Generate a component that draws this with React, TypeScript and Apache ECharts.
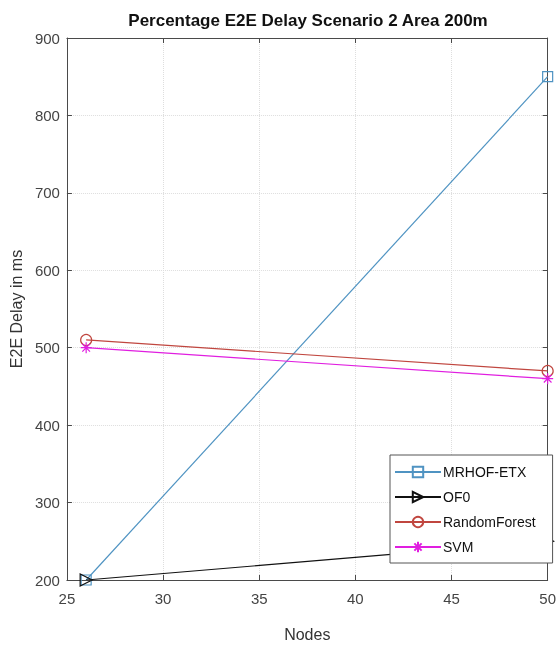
import React, { useEffect, useRef } from "react";
import * as echarts from "echarts";

const nodes = [26, 50];
const mrhofEtx = [200, 850];
const of0 = [200, 250];
const randomForest = [510, 470];
const svm = [500, 460];
const seriesNames = ["MRHOF-ETX", "OF0", "RandomForest", "SVM"];

const FONT = "'Liberation Sans', Arial, sans-serif";
const STAR = "path://M0,-6L0,6M-6,0L6,0M-4.2,-4.2L4.2,4.2M-4.2,4.2L4.2,-4.2";

export default function App() {
  const ref = useRef<HTMLDivElement>(null);
  useEffect(() => {
    if (!ref.current) return;
    const chart = echarts.init(ref.current, null, { renderer: "svg" });
    const pts = (ys: number[]) => nodes.map((x, i) => [x, ys[i]]);
    const axisLine = { show: true, lineStyle: { color: "#4a4a4a", width: 1 } };
    const mk = (name: string, data: number[], color: string, symbol: string, rotate = 0, size = 10) => ({
      name,
      type: "line",
      data: pts(data),
      symbol,
      symbolSize: size,
      symbolRotate: rotate,
      showSymbol: true,
      lineStyle: { color, width: 1.2 },
      itemStyle: { color: "rgba(0,0,0,0)", borderColor: color, borderWidth: 1.2 },
      emphasis: { disabled: true },
    });
    chart.setOption({
      animation: false,
      textStyle: { fontFamily: FONT },
      title: {
        text: "Percentage E2E Delay Scenario 2 Area 200m",
        left: 303,
        textAlign: "center",
        top: 7,
        textStyle: { fontFamily: FONT, fontSize: 17, fontWeight: "bold", color: "#111" },
      },
      legend: {
        data: seriesNames.map((n) => ({ name: n })),
        orient: "vertical",
        left: 390,
        top: 455,
        padding: [10, 17, 9, 4],
        itemGap: 11,
        itemWidth: 46,
        itemHeight: 13,
        backgroundColor: "#fff",
        borderColor: "#555",
        borderWidth: 1,
        textStyle: { fontFamily: FONT, fontSize: 14, color: "#111", padding: [0, 0, 0, -3] },
      },
      grid: { left: 63, right: 11, top: 38, bottom: 67, containLabel: false },
      xAxis: [
        {
          type: "value",
          min: 25,
          max: 50,
          interval: 5,
          name: "Nodes",
          nameLocation: "middle",
          nameGap: 46,
          nameTextStyle: { fontFamily: FONT, fontSize: 16, color: "#333" },
          axisLine,
          axisTick: { show: true, inside: true, length: 5, lineStyle: { color: "#4a4a4a" } },
          axisLabel: { fontFamily: FONT, fontSize: 15, color: "#444", margin: 11 },
          splitLine: { show: true, lineStyle: { color: "#dedede", type: "dotted" } },
        },
        {
          type: "value",
          min: 25,
          max: 50,
          interval: 5,
          position: "top",
          axisLine,
          axisTick: { show: true, inside: true, length: 5, lineStyle: { color: "#4a4a4a" } },
          axisLabel: { show: false },
          splitLine: { show: false },
        },
      ],
      yAxis: [
        {
          type: "value",
          min: 200,
          max: 900,
          interval: 100,
          name: "E2E Delay in ms",
          nameLocation: "middle",
          nameGap: 35,
          nameTextStyle: { fontFamily: FONT, fontSize: 16, color: "#333" },
          axisLine,
          axisTick: { show: true, inside: true, length: 5, lineStyle: { color: "#4a4a4a" } },
          axisLabel: { fontFamily: FONT, fontSize: 15, color: "#444", margin: 7 },
          splitLine: { show: true, lineStyle: { color: "#dedede", type: "dotted" } },
        },
        {
          type: "value",
          min: 200,
          max: 900,
          interval: 100,
          position: "right",
          axisLine,
          axisTick: { show: true, inside: true, length: 5, lineStyle: { color: "#4a4a4a" } },
          axisLabel: { show: false },
          splitLine: { show: false },
        },
      ],
      series: [
        mk("MRHOF-ETX", mrhofEtx, "#4f93c2", "rect", 0, 10),
        mk("OF0", of0, "#111111", "triangle", -90, 12),
        mk("RandomForest", randomForest, "#c0463f", "circle", 0, 11),
        mk("SVM", svm, "#e01ee0", STAR, 0, 11),
      ],
    });
    return () => chart.dispose();
  }, []);
  return <div ref={ref} style={{ position: "fixed", left: 0, top: 0, width: 559, height: 647 }} />;
}
